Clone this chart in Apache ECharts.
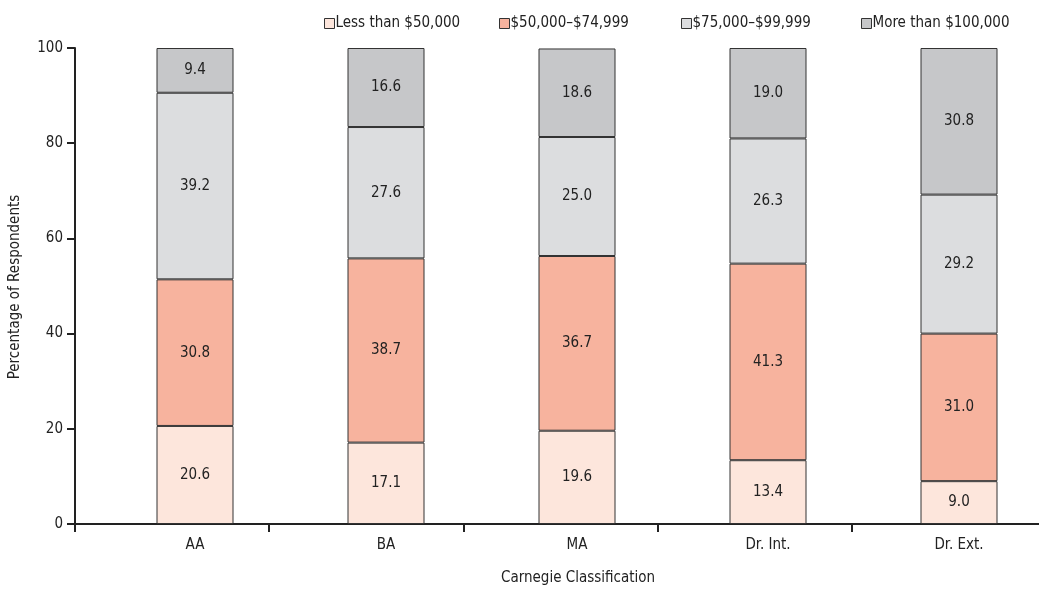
<!DOCTYPE html>
<html><head><meta charset="utf-8">
<script src="https://cdn.jsdelivr.net/npm/echarts@6/dist/echarts.min.js"></script>
<style>html,body{margin:0;padding:0;background:#fff}#c{width:1039px;height:589px}</style>
</head><body><div id="c"></div>
<script>
var categories = ['AA', 'BA', 'MA', 'Dr. Int.', 'Dr. Ext.'];
var seriesNames = ['Less than $50,000', '$50,000\u2013$74,999', '$75,000\u2013$99,999', 'More than $100,000'];
var lessThan50k = [20.6, 17.1, 19.6, 13.4, 9.0];
var from50to75k = [30.8, 38.7, 36.7, 41.3, 31.0];
var from75to100k = [39.2, 27.6, 25.0, 26.3, 29.2];
var moreThan100k = [9.4, 16.6, 18.6, 19.0, 30.8];
var yTicks = [0, 20, 40, 60, 80, 100];
var colors = ['#FDE6DC', '#F7B39E', '#DCDDDF', '#C6C7C9'];

var FONT = '"DejaVu Sans Condensed", "Liberation Sans", sans-serif';
var FS = 15;
var allData = [lessThan50k, from50to75k, from75to100k, moreThan100k];
var chart = echarts.init(document.getElementById('c'), null, {renderer: 'canvas'});
var series = allData.map(function (d, i) {
  return {
    name: seriesNames[i], type: 'bar', stack: 'total', data: d, barWidth: 77,
    xAxisIndex: 1, yAxisIndex: 1,
    itemStyle: {color: colors[i], borderColor: '#333', borderWidth: 1},
    label: {show: true, position: 'inside', color: '#222', fontFamily: FONT, fontSize: FS,
      formatter: function (p) { return p.value.toFixed(1); }},
    emphasis: {disabled: true}
  };
});
var legendLefts = [319, 494, 676, 856];
var legends = seriesNames.map(function (n, i) {
  return {
    data: [n], top: 11, left: legendLefts[i], itemWidth: 10, itemHeight: 10, icon: 'rect',
    textStyle: {fontFamily: FONT, fontSize: FS, color: '#222', padding: [0, 0, 0, -4]},
    itemStyle: {borderColor: '#333', borderWidth: 1}, selectedMode: false
  };
});
chart.setOption({
  animation: false,
  textStyle: {fontFamily: FONT},
  legend: legends,
  grid: [
    {left: 75, width: 971, top: 48, bottom: 65, outerBoundsMode: 'none'},
    {left: 99.5, width: 955, top: 48, bottom: 65, outerBoundsMode: 'none'}
  ],
  xAxis: [{
    type: 'category', data: categories, gridIndex: 0,
    axisLine: {lineStyle: {color: '#222', width: 2}},
    axisTick: {show: true, length: 8, inside: false, lineStyle: {color: '#222', width: 2}},
    axisLabel: {show: false}
  }, {
    type: 'category', data: categories, gridIndex: 1,
    axisLine: {show: false}, axisTick: {show: false},
    axisLabel: {color: '#222', fontFamily: FONT, fontSize: FS, margin: 14, interval: 0}
  }],
  yAxis: [{
    type: 'value', min: 0, max: 100, interval: 20, gridIndex: 0,
    axisLine: {show: true, lineStyle: {color: '#222', width: 2}},
    axisTick: {show: true, length: 8, lineStyle: {color: '#222', width: 2}},
    splitLine: {show: false},
    axisLabel: {color: '#222', fontFamily: FONT, fontSize: FS, margin: 12, customValues: yTicks}
  }, {
    type: 'value', min: 0, max: 100, gridIndex: 1, show: false, splitLine: {show: false}
  }],
  graphic: [
    {type: 'text', left: 501, top: 571, style: {text: 'Carnegie Classification', fontFamily: FONT, fontSize: FS, fill: '#222'}},
    {type: 'text', x: 8, y: 287, rotation: Math.PI / 2, style: {text: 'Percentage of Respondents', fontFamily: FONT, fontSize: FS, fill: '#222', align: 'center', verticalAlign: 'top'}}
  ],
  series: series
});
</script></body></html>
